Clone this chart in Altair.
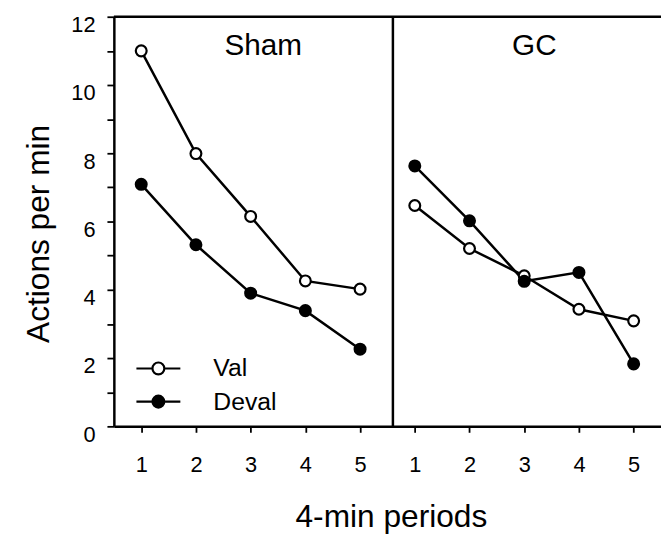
import altair as alt
import pandas as pd

# ---- data ----
periods = [1, 2, 3, 4, 5]
sham_val = [11.0, 7.99, 6.15, 4.26, 4.02]
sham_deval = [7.09, 5.32, 3.90, 3.39, 2.26]
gc_val = [6.47, 5.21, 4.41, 3.43, 3.09]
gc_deval = [7.63, 6.02, 4.25, 4.51, 1.83]
groups = ["Sham", "GC"]
conditions = ["Val", "Deval"]
y_ticks = list(range(0, 13))
x_ticks = list(range(1, 11))

series = {
    ("Sham", "Val"): sham_val,
    ("Sham", "Deval"): sham_deval,
    ("GC", "Val"): gc_val,
    ("GC", "Deval"): gc_deval,
}
rows = []
for (g, c), vals in series.items():
    for p, v in zip(periods, vals):
        rows.append({"group": g, "condition": c, "period": p, "value": v})
df = pd.DataFrame(rows)

FONT = "Liberation Sans"
W, H = 553, 414

x_scale = alt.Scale(domain=[0.5, 10.5], nice=False, zero=False)
x_axis = alt.Axis(
    values=x_ticks,
    labelExpr="((datum.value - 1) % 5) + 1",
    title="4-min periods",
    tickSize=6,
    labelPadding=40,
    labelBaseline="alphabetic",
    labelFontSize=22,
    titleFontSize=32,
    titleX=280,
    titleY=101,
    titleBaseline="alphabetic",
    titleAnchor="start",
    titleAlign="center",
)
y_axis = alt.Axis(
    values=y_ticks,
    labelExpr="datum.value % 2 == 0 ? datum.label : ''",
    title="Actions per min",
    tickSize=7,
    labelPadding=12,
    labelBaseline="alphabetic",
    labelOffset=15,
    labelFontSize=22,
    titleFontSize=32,
    titleX=-76,
    titleY=219,
    titleAngle=270,
    titleBaseline="middle",
    titleAlign="center",
    titleAnchor="start",
)

X = alt.X("xpos:Q", scale=x_scale, axis=x_axis)
Y = alt.Y("value:Q", scale=alt.Scale(domain=[0, 12], nice=False, zero=True), axis=y_axis)

base = alt.Chart(df).transform_calculate(
    xpos="datum.period + (datum.group == 'GC' ? 5 : 0)",
    series="datum.group + '-' + datum.condition",
)

lines = base.mark_line(color="black", strokeWidth=2.5).encode(x=X, y=Y, detail="series:N")

legend_path = "M-3.7,0H-1M1,0H3.7M-1,0A1,1,0,1,0,1,0A1,1,0,1,0,-1,0Z"
points = base.mark_point(filled=True, size=120, stroke="black", strokeWidth=2.2, opacity=1).encode(
    x=X,
    y=Y,
    fill=alt.Fill(
        "condition:N",
        scale=alt.Scale(domain=conditions, range=["white", "black"]),
        legend=alt.Legend(
            orient="none",
            legendX=32.5,
            legendY=343,
            title=None,
            symbolType=legend_path,
            symbolSize=144,
            symbolStrokeColor="black",
            symbolStrokeWidth=2.2,
            symbolOpacity=1,
            labelFont=FONT,
            labelFontSize=25,
            labelColor="black",
            labelOffset=43,
            rowPadding=7.5,
            padding=0,
        ),
    ),
)

brk = pd.DataFrame({"xpos": [5.6]})
divider = alt.Chart(brk).mark_rule(color="black", strokeWidth=2.5).encode(x=X)

one = pd.DataFrame({"a": [0]})
top_line = alt.Chart(one).mark_rule(color="black", strokeWidth=2.5).encode(
    x=alt.value(0), x2=alt.value(W), y=alt.value(0)
)

sham_title = alt.Chart(pd.DataFrame({"t": [groups[0]]})).mark_text(
    font=FONT, fontSize=30, color="black", baseline="middle"
).encode(text="t:N", x=alt.value(151), y=alt.value(30))
gc_title = alt.Chart(pd.DataFrame({"t": [groups[1]]})).mark_text(
    font=FONT, fontSize=30, color="black", baseline="middle"
).encode(text="t:N", x=alt.value(425), y=alt.value(30))

chart = (
    alt.layer(lines, points, divider, top_line, sham_title, gc_title)
    .properties(
        width=W,
        height=H,
        autosize=alt.AutoSizeParams(type="none"),
        padding={"left": 107, "top": 6, "right": 0, "bottom": 108},
    )
    .configure_view(stroke="transparent")
    .configure_axis(
        grid=False,
        domainColor="black",
        domainWidth=2.5,
        tickColor="black",
        tickWidth=1.8,
        labelFont=FONT,
        labelColor="black",
        titleFont=FONT,
        titleFontWeight="normal",
        titleColor="black",
    )
)

chart.save("out.html", embed_options={"renderer": "svg", "actions": False})
